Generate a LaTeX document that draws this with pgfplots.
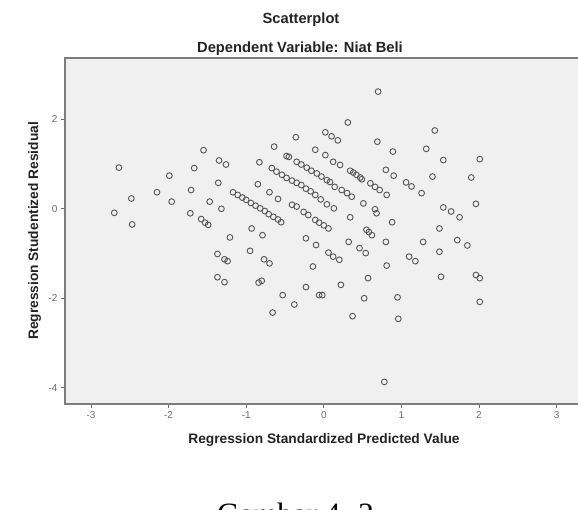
\documentclass[border=0pt]{standalone}
\usepackage{pgfplots}
\pgfplotsset{compat=1.18}
\usepackage{fontspec}
\setmainfont{Liberation Sans}
\newfontfamily\capfont{Liberation Serif}
\definecolor{bgc}{RGB}{240,240,240}
\definecolor{framec}{RGB}{125,125,125}
\definecolor{markc}{RGB}{85,85,85}
\definecolor{tickc}{RGB}{105,105,105}
\definecolor{labc}{RGB}{35,35,35}
\pgfplotstableread{
x y
-2.64 0.92
-2.48 0.23
-2.70 -0.09
-2.47 -0.35
-2.15 0.37
-1.99 0.74
-1.96 0.16
-1.55 1.31
-1.67 0.91
-1.35 1.08
-1.26 0.99
-1.71 0.42
-1.36 0.58
-1.47 0.16
-1.32 0.00
-1.72 -0.10
-1.58 -0.23
-1.53 -0.31
-1.49 -0.36
-1.21 -0.64
-1.37 -1.01
-1.28 -1.13
-1.24 -1.17
-1.37 -1.53
-1.28 -1.64
-1.17 0.37
-1.11 0.31
-1.05 0.25
-1.00 0.20
-0.94 0.13
-0.88 0.07
-0.82 0.01
-0.76 -0.05
-0.71 -0.12
-0.65 -0.18
-0.59 -0.24
-0.55 -0.30
-0.83 1.04
-0.64 1.39
-0.36 1.60
-0.93 -0.44
-0.79 -0.59
-0.95 -0.94
-0.77 -1.13
-0.70 -1.22
-0.84 -1.65
-0.80 -1.61
-0.53 -1.93
-0.38 -2.14
-0.66 -2.32
-0.23 -0.66
-0.10 -0.81
-0.14 -1.29
-0.23 -1.75
-0.06 -1.93
-0.02 -1.93
0.06 -0.98
0.12 -1.07
0.20 -1.14
0.22 -1.70
0.32 -0.74
0.46 -0.88
0.54 -0.99
0.37 -2.40
0.52 -2.00
0.57 -1.55
0.34 -0.19
0.55 -0.47
0.58 -0.52
0.62 -0.59
0.80 -0.74
0.81 -1.27
0.68 -0.10
0.78 -3.87
0.95 -1.98
0.96 -2.46
1.10 -1.07
1.18 -1.17
1.49 -0.96
1.51 -1.52
1.96 -1.48
2.01 -1.55
2.01 -2.08
1.28 -0.74
1.72 -0.70
1.85 -0.82
1.49 -0.44
0.88 -0.30
1.54 0.03
1.64 -0.06
1.75 -0.19
1.96 0.11
1.90 0.70
2.01 1.11
1.54 1.09
1.32 1.34
1.43 1.75
1.40 0.72
1.26 0.35
1.06 0.59
1.13 0.50
0.80 0.87
0.90 0.74
0.89 1.28
0.69 1.50
0.70 2.62
0.31 1.93
0.02 1.71
0.10 1.62
0.18 1.53
-0.45 1.16
-0.85 0.55
-0.70 0.37
-0.59 0.22
-0.41 0.09
-0.35 0.05
-0.26 -0.07
-0.20 -0.14
-0.11 -0.25
-0.06 -0.31
0.00 -0.37
0.06 -0.44
-0.67 0.91
-0.61 0.83
-0.54 0.76
-0.48 0.69
-0.41 0.63
-0.35 0.58
-0.29 0.53
-0.23 0.45
-0.17 0.39
-0.11 0.31
-0.04 0.21
0.04 0.10
0.13 0.01
-0.48 1.18
-0.35 1.05
-0.29 0.99
-0.22 0.92
-0.16 0.85
-0.09 0.79
-0.03 0.72
0.04 0.64
0.08 0.60
0.14 0.49
0.23 0.42
0.30 0.35
0.36 0.27
0.51 0.12
0.66 -0.01
-0.11 1.32
0.02 1.20
0.12 1.05
0.21 0.98
0.34 0.85
0.38 0.81
0.42 0.76
0.47 0.70
0.49 0.66
0.60 0.57
0.66 0.49
0.72 0.42
0.81 0.31
}\resid
\begin{document}
\begin{tikzpicture}[x=1pt,y=1pt]
\useasboundingbox (0,0) rectangle (578,510);
\coordinate (AX) at (65,106);
\begin{axis}[
  at={(AX)}, anchor=south west,
  scale only axis, width=517.6pt, height=346pt,
  xmin=-3.335, xmax=3.335, ymin=-4.364, ymax=3.371,
  axis background/.style={fill=bgc},
  axis line style={framec, line width=1.6pt},
  xtick={-3,-2,-1,0,1,2,3}, ytick={-4,-2,0,2},
  xtick pos=bottom, ytick pos=left,
  tick align=outside, major tick length=4pt,
  tick style={tickc, line width=0.8pt},
  /pgf/number format/assume math mode=true,
  ticklabel style={font=\fontsize{10}{12}\selectfont, text=tickc},
]
\addplot[only marks, mark=o, mark size=2.9pt,
  mark options={draw=markc, line width=0.9pt}] table[x=x,y=y] {\resid};
\end{axis}
\node[font=\bfseries\fontsize{14.7}{16}\selectfont, text=labc, anchor=base] at (301,486) {Scatterplot};
\node[font=\bfseries\fontsize{14.7}{16}\selectfont, text=labc, anchor=base] at (300,457.7) {Dependent Variable: Niat Beli};
\node[font=\bfseries\fontsize{13.75}{15}\selectfont, text=labc, anchor=base] at (324,66) {Regression Standardized Predicted Value};
\node[font=\bfseries\fontsize{13.75}{15}\selectfont, text=labc, anchor=base, rotate=90] at (38,279) {Regression Studentized Residual};
\node[font=\capfont\fontsize{31}{36}\selectfont, anchor=base west, inner sep=0pt] at (217,-15) {Gambar 4. 2};
\end{tikzpicture}
\end{document}
